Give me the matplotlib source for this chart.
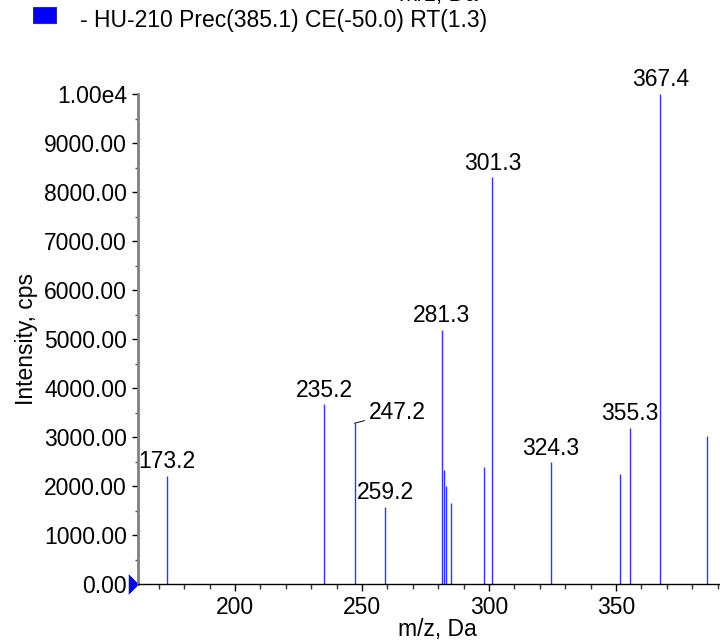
import matplotlib.pyplot as plt
from matplotlib.ticker import MultipleLocator, FixedLocator

plt.rcParams['font.family'] = ['Liberation Sans', 'DejaVu Sans']

# peaks of the spectrum (m/z, intensity in cps)
mz = [173.2, 235.2, 247.2, 259.2, 281.3, 282.1, 283.0, 285.0, 298.0,
      301.3, 324.3, 351.4, 355.3, 367.4, 385.6]
intensity = [2210, 3667, 3280, 1571, 5184, 2327, 2007, 1646, 2381,
             8299, 2483, 2238, 3184, 10000, 3027]
labelled = [173.2, 235.2, 259.2, 281.3, 301.3, 324.3, 355.3, 367.4]

ytick_vals = [0, 1000, 2000, 3000, 4000, 5000, 6000, 7000, 8000, 9000, 10000]
ytick_text = ['0.00', '1000.00', '2000.00', '3000.00', '4000.00', '5000.00',
              '6000.00', '7000.00', '8000.00', '9000.00', '1.00e4']
legend_text = '- HU-210 Prec(385.1) CE(-50.0) RT(1.3)'

FS = 16.5
W, H = 720, 641

fig = plt.figure(figsize=(W / 100, H / 100), dpi=100)
# the axes runs a little past the right edge of the picture
ax = fig.add_axes([138 / W, 57 / H, 598 / W, 490 / H])

ax.vlines(mz, 0, intensity, color='#3333ff', linewidth=1.0)

for x, y in zip(mz, intensity):
    if x in labelled:
        ax.annotate(f'{x:.1f}', (x, y), xytext=(0, 2), textcoords='offset points',
                    ha='center', va='bottom', fontsize=FS)

# 247.2 is set aside with a short leader line
i = mz.index(247.2)
ax.annotate('247.2', (mz[i] - 0.2, intensity[i]), xytext=(252.6, 3510),
            ha='left', va='center', fontsize=FS,
            arrowprops=dict(arrowstyle='-', color='black', lw=0.7,
                            shrinkA=1, shrinkB=0))

ax.set_xlim(161.8, 397.2)
ax.set_ylim(0, 10000)

ax.spines['top'].set_visible(False)
ax.spines['right'].set_visible(False)
ax.spines['left'].set_color('#808080')
ax.spines['left'].set_linewidth(2)
ax.spines['bottom'].set_linewidth(1)

ax.xaxis.set_major_locator(MultipleLocator(50))
ax.xaxis.set_minor_locator(MultipleLocator(10))
ax.yaxis.set_major_locator(FixedLocator(ytick_vals))
ax.set_yticklabels(ytick_text)
ax.yaxis.set_minor_locator(MultipleLocator(500))
ax.tick_params(axis='x', which='major', labelsize=FS, length=5, width=1, pad=4)
ax.tick_params(axis='x', which='minor', length=3.5, width=1, color='#333333')
ax.tick_params(axis='y', which='major', labelsize=FS, length=4, width=1, pad=4)
ax.tick_params(axis='y', which='minor', length=2.5, width=1, color='#555555')

# blue triangle on the y origin
ax.plot([ax.get_xlim()[0]], [0], marker=[(-1, -1), (0, 0), (-1, 1)],
        color='blue', markersize=14, clip_on=False,
        markeredgecolor='#000080', markeredgewidth=0.5)

ax.set_xlabel('m/z, Da', fontsize=FS, labelpad=-1)
ax.set_ylabel('Intensity, cps', fontsize=FS, labelpad=4)

# legend entry on top
fig.patches.append(plt.Rectangle((33 / W, 1 - 23 / H), 23 / W, 16 / H,
                                 transform=fig.transFigure, facecolor='blue',
                                 edgecolor='#333366', linewidth=0.8))
fig.text(80 / W, 1 - 21 / H, legend_text, fontsize=FS, va='center', ha='left')
# title of the panel above, mostly outside the picture
fig.text(438 / W, 1 - 1 / H, 'm/z, Da', fontsize=FS, va='baseline', ha='center')

fig.savefig('out.png', dpi=100)
